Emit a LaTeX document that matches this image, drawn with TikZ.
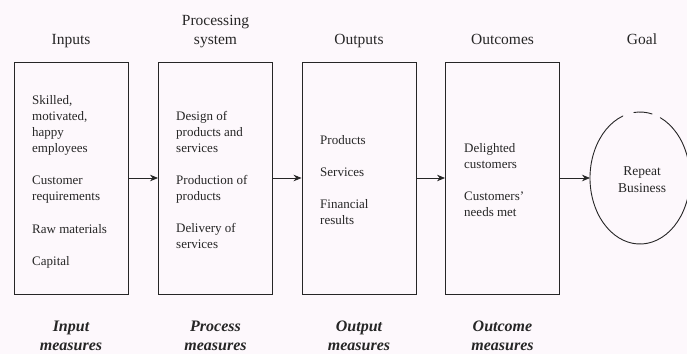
\documentclass[tikz,border=0pt]{standalone}
\usepackage{fontspec}
\setmainfont{Liberation Serif}
\usetikzlibrary{arrows.meta,shapes.geometric}
\definecolor{paper}{RGB}{253,248,252}
\definecolor{ink}{RGB}{38,38,38}
\newcommand{\lines}[2][l]{\begin{tabular}[t]{@{}#1@{}}#2\end{tabular}}
\begin{document}
\begin{tikzpicture}[x=1pt,y=-1pt,
  stage/.style={draw=ink, line width=0.9pt, minimum width=114pt, minimum height=232pt, inner sep=0pt},
  heading/.style={font=\fontsize{15.5}{19}\selectfont, text=ink, anchor=base, inner sep=0pt},
  item/.style={font=\fontsize{13}{16}\selectfont, text=ink, anchor=base west, inner sep=0pt},
  measure/.style={font=\fontsize{16}{19}\selectfont\bfseries\itshape, text=ink, anchor=base, inner sep=0pt},
  flow/.style={-{Stealth[length=8pt,width=6.5pt]}, draw=ink, line width=0.8pt},
  rim/.style={draw=ink, line width=0.9pt, line cap=round}]
  % canvas
  \fill[paper] (0,0) rectangle (687,354);
  \useasboundingbox (0,0) rectangle (687,354);

  % the four stages
  \node[stage] (inputs)   at (71,178)  {};
  \node[stage] (process)  at (215.5,178) {};
  \node[stage] (outputs)  at (359,178) {};
  \node[stage] (outcomes) at (502.5,178) {};

  % goal ellipse, drawn as arcs with two small breaks at the top
  \node[ellipse, minimum width=100pt, minimum height=132pt, inner sep=0pt, outer sep=0pt] (goal) at (640,178) {};
  \path[rim] (goal.center) ++(110:50pt and 66pt)
    arc[start angle=110, end angle=426, x radius=50pt, y radius=66pt];
  \path[rim] (goal.center) ++(76:50pt and 66pt)
    arc[start angle=76, end angle=97, x radius=50pt, y radius=66pt];

  % headings
  \node[heading] (h1) at (71,44) {Inputs};
  \node[heading] (h2) at (215.5,25) {\lines[c]{Processing\\system}};
  \node[heading] (h3) at (359,44) {Outputs};
  \node[heading] (h4) at (502.5,44) {Outcomes};
  \node[heading] (h5) at (642,44) {Goal};

  % contents of the stages
  \node[item] (t1) at (32,104) {\lines{Skilled,\\motivated,\\happy\\employees\\[16pt]Customer\\requirements\\[17pt]Raw materials\\[16pt]Capital}};
  \node[item] (t2) at (176,120) {\lines{Design of\\products and\\services\\[16pt]Production of\\products\\[16pt]Delivery of\\services}};
  \node[item] (t3) at (320,144) {\lines{Products\\[16pt]Services\\[16pt]Financial\\results}};
  \node[item] (t4) at (464,152) {\lines{Delighted\\customers\\[16pt]Customers'\\needs met}};
  \node[item, anchor=base, font=\fontsize{13.5}{17}\selectfont] (t5) at (642,175) {\lines[c]{Repeat\\Business}};

  % measures
  \node[measure] (m1) at (71,331)    {\lines[c]{Input\\measures}};
  \node[measure] (m2) at (215.5,331) {\lines[c]{Process\\measures}};
  \node[measure] (m3) at (359,331)   {\lines[c]{Output\\measures}};
  \node[measure] (m4) at (502.5,331) {\lines[c]{Outcome\\measures}};

  % flow between stages
  \draw[flow] (inputs) -- (process);
  \draw[flow] (process) -- (outputs);
  \draw[flow] (outputs) -- (outcomes);
  \draw[flow] (outcomes) -- (goal);
\end{tikzpicture}
\end{document}
